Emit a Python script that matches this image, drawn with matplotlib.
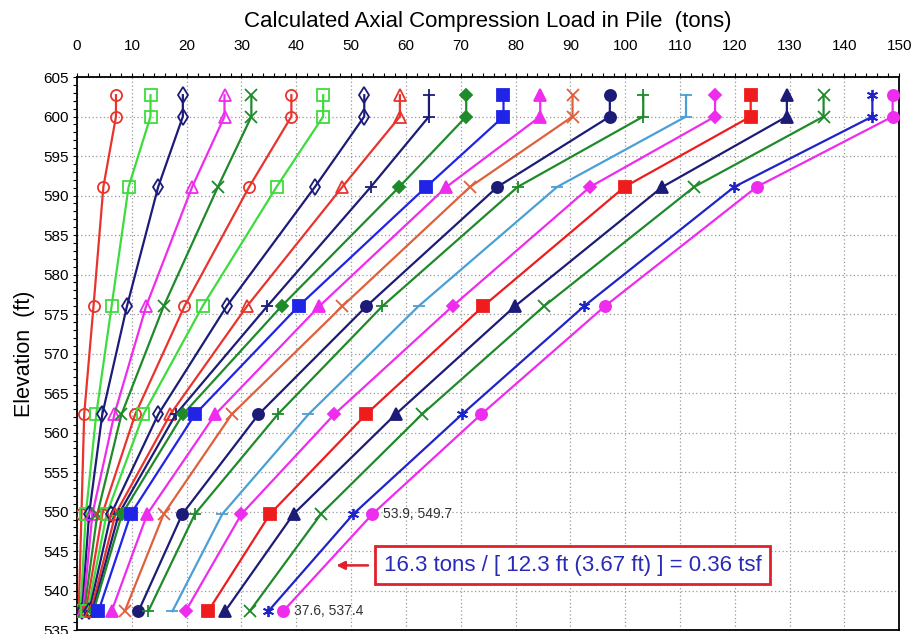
import matplotlib
matplotlib.use('Agg')
import matplotlib.pyplot as plt
from matplotlib.ticker import MultipleLocator

# elevations of the output points (ft), top point is the pile head marker
elev = [602.7, 600.0, 591.1, 576.0, 562.3, 549.7, 537.4]

# calculated load (tons) at each elevation, one value per curve
load_600 = [7.1, 13.4, 19.3, 26.9, 31.8, 39.1, 44.9, 52.4, 58.9, 64.2, 71.0, 77.8,
            84.5, 90.4, 97.2, 103.3, 111.1, 116.4, 122.9, 129.5, 136.2, 145.1, 148.8]
load_591 = [4.8, 9.4, 14.8, 21.0, 25.7, 31.4, 36.4, 43.4, 48.4, 53.6, 58.8, 63.7,
            67.4, 71.7, 76.7, 80.4, 87.6, 93.6, 99.9, 106.8, 112.6, 119.9, 124.0]
load_576 = [3.0, 6.3, 9.1, 12.6, 15.8, 19.6, 22.9, 27.3, 31.0, 34.7, 37.3, 40.4,
            44.2, 48.4, 52.8, 55.7, 62.3, 68.5, 74.1, 79.9, 85.2, 92.5, 96.3]
load_562 = [1.3, 3.5, 4.6, 6.8, 8.1, 10.6, 12.1, 14.8, 17.0, 18.0, 19.3, 21.5,
            25.2, 28.2, 33.1, 36.6, 42.2, 46.9, 52.7, 58.1, 62.9, 70.2, 73.7]
load_550 = [0.8, 1.6, 2.2, 2.8, 3.7, 4.6, 5.4, 6.2, 7.0, 7.6, 8.2, 9.8,
            12.8, 15.8, 19.2, 21.5, 26.5, 30.0, 35.2, 39.5, 44.5, 50.4, 53.9]
load_537 = [0.3, 0.6, 0.9, 1.1, 1.3, 1.6, 1.9, 2.2, 2.5, 2.8, 3.0, 3.9,
            6.3, 8.7, 11.2, 13.0, 17.4, 19.8, 23.9, 27.0, 31.5, 34.9, 37.6]

colors = ['#e8342c', '#3ddc3d', '#1c1c78', '#ee2cee', '#1f8a2a', '#e8342c', '#3ddc3d',
          '#1c1c78', '#e8342c', '#1c1c78', '#1f8a2a', '#1f24e6', '#ee2cee', '#e0603c',
          '#1c1c78', '#1f8a2a', '#4a9fd6', '#ee2cee', '#ee1c1c', '#1c1c78', '#1f8a2a',
          '#1f24c8', '#ee2cee']
markers = ['o', 's', 'd', '^', 'x', 'o', 's', 'd', '^', '+', 'D', 's',
           '^', 'x', 'o', '+', '_', 'D', 's', '^', 'x', (6, 2, 0), 'o']
filled = [False] * 10 + [True, True, True, False, True, False, False,
                         True, True, True, False, False, True]

fig = plt.figure(figsize=(9.12, 6.34), dpi=100)
ax = fig.add_axes([0.0845, 0.006, 0.9015, 0.8725])

for i in range(len(load_600)):
    xs = [load_600[i], load_600[i], load_591[i], load_576[i],
          load_562[i], load_550[i], load_537[i]]
    c = colors[i]
    fc = c if filled[i] else 'none'
    ms = 6 if markers[i] == 'D' else 8
    ax.plot(xs, elev, color=c, lw=1.6, marker=markers[i], ms=ms,
            mfc=fc, mec=c, mew=1.3, zorder=3)

ax.set_xlim(0, 150)
ax.set_ylim(535, 605)
ax.xaxis.tick_top()
ax.xaxis.set_label_position('top')
ax.xaxis.set_major_locator(MultipleLocator(10))
ax.xaxis.set_minor_locator(MultipleLocator(2))
ax.yaxis.set_major_locator(MultipleLocator(5))
ax.yaxis.set_minor_locator(MultipleLocator(1))
ax.tick_params(which='both', direction='out', length=3, width=0.8)
ax.tick_params(axis='x', which='major', pad=14)
ax.tick_params(axis='y', which='major', pad=3)
tick_font = ['Liberation Sans Narrow', 'Liberation Sans']
for lab in ax.get_xticklabels() + ax.get_yticklabels():
    lab.set_family(tick_font)
    lab.set_fontsize(11)
ax.grid(True, which='major', color='#999999', ls=(0, (1, 2)), lw=0.9)
for s in ax.spines.values():
    s.set_linewidth(1.3)

ax.set_xlabel('Calculated Axial Compression Load in Pile  (tons)',
              fontsize=16, family='Liberation Sans', labelpad=9)
ax.set_ylabel('Elevation  (ft)', fontsize=15.5, family='Liberation Sans', labelpad=6)

ax.text(55.8, 549.7, '53.9, 549.7', fontsize=10, family=tick_font,
        va='center', color='#333333')
ax.text(39.5, 537.4, '37.6, 537.4', fontsize=10, family=tick_font,
        va='center', color='#333333')

ax.annotate('', xy=(46.8, 543.2), xytext=(53.6, 543.2),
            arrowprops=dict(arrowstyle='-|>', color='#e0202a', lw=1.8,
                            mutation_scale=12))
ax.text(90.4, 543.2, '16.3 tons / [ 12.3 ft (3.67 ft) ] = 0.36 tsf',
        fontsize=16, family='Liberation Sans', color='#2a2ab8',
        ha='center', va='center', zorder=5,
        bbox=dict(boxstyle='square,pad=0.38', fc='white', ec='#e0202a', lw=2))

fig.savefig('out.png', dpi=100)
